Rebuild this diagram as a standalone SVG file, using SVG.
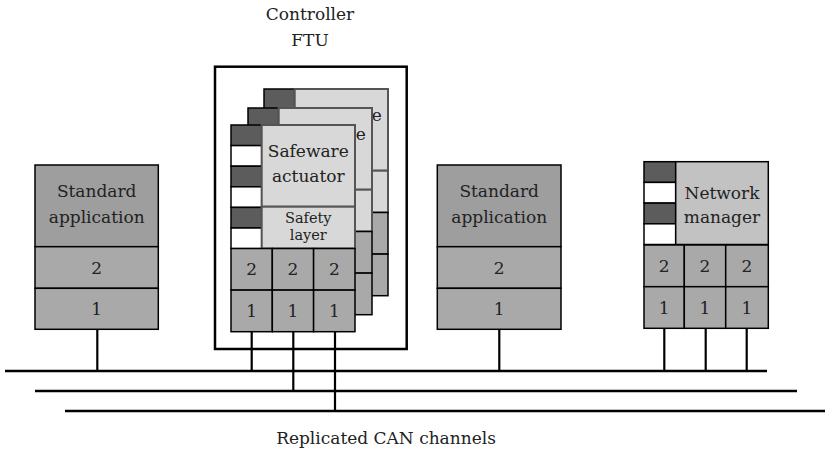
<svg xmlns="http://www.w3.org/2000/svg" width="825" height="459" viewBox="0 0 825 459">
<style>
text{font-family:"DejaVu Serif","Liberation Serif",serif;font-size:17px;fill:#222;text-anchor:middle}
.sm{font-size:14.5px}
.dk{fill:#5c5c5c;stroke:#000;stroke-width:1.5}
.wh{fill:#fff;stroke:#000;stroke-width:1.5}
.lt{fill:#d8d8d8;stroke:#555;stroke-width:2}
.nm{fill:#c2c2c2;stroke:#000;stroke-width:1.5}
.gr{fill:#a9a9a9;stroke:#000;stroke-width:1.5}
.sa{fill:#9e9e9e;stroke:#000;stroke-width:1.5}
.ln{stroke:#000;stroke-width:2.2;fill:none}
.bus{stroke:#000;stroke-width:2.6;fill:none}
.box{fill:#fff;stroke:#000;stroke-width:2.5}
</style>
<defs>
<g id="cardBase">
<rect class="dk" x="231" y="125" width="30.7" height="20.6"/>
<rect class="wh" x="231" y="145.6" width="30.7" height="20.6"/>
<rect class="dk" x="231" y="166.2" width="30.7" height="20.6"/>
<rect class="wh" x="231" y="186.8" width="30.7" height="20.6"/>
<rect class="dk" x="231" y="207.4" width="30.7" height="20.6"/>
<rect class="wh" x="231" y="228" width="30.7" height="20.6"/>
<rect class="lt" x="261.7" y="125" width="93.3" height="81.7"/>
<rect class="lt" x="261.7" y="206.7" width="93.3" height="41.8"/>
<rect class="gr" x="231" y="248.5" width="41.3" height="41.6"/>
<rect class="gr" x="272.3" y="248.5" width="41.3" height="41.6"/>
<rect class="gr" x="313.6" y="248.5" width="41.4" height="41.6"/>
<rect class="gr" x="231" y="290.1" width="41.3" height="41.6"/>
<rect class="gr" x="272.3" y="290.1" width="41.3" height="41.6"/>
<rect class="gr" x="313.6" y="290.1" width="41.4" height="41.6"/>
<text x="308.3" y="157">Safeware</text>
</g>
</defs>

<g id="controller">
<text x="310" y="20">Controller</text>
<text x="310" y="46">FTU</text>
<rect class="box" x="215" y="66.7" width="191.7" height="282.3"/>
</g>

<g id="card3" transform="translate(33,-36)">
<use href="#cardBase"/>
</g>
<g id="card2" transform="translate(17,-17)">
<use href="#cardBase"/>
</g>
<g id="card1">
<use href="#cardBase"/>
<text x="308.3" y="182">actuator</text>
<text class="sm" x="308.3" y="223">Safety</text>
<text class="sm" x="308.3" y="240">layer</text>
<text x="251.7" y="275">2</text>
<text x="293" y="275">2</text>
<text x="334.3" y="275">2</text>
<text x="251.7" y="316.5">1</text>
<text x="293" y="316.5">1</text>
<text x="334.3" y="316.5">1</text>
</g>

<g id="stdapp1">
<rect class="sa" x="35" y="165" width="123.3" height="81.7"/>
<rect class="gr" x="35" y="246.7" width="123.3" height="41.6"/>
<rect class="gr" x="35" y="288.3" width="123.3" height="41"/>
<text x="96.7" y="196.5">Standard</text>
<text x="96.7" y="222.5">application</text>
<text x="96.7" y="273.5">2</text>
<text x="96.7" y="315">1</text>
</g>

<g id="stdapp2">
<rect class="sa" x="437.3" y="165" width="123.7" height="81.7"/>
<rect class="gr" x="437.3" y="246.7" width="123.7" height="41.6"/>
<rect class="gr" x="437.3" y="288.3" width="123.7" height="41"/>
<text x="499.2" y="196.5">Standard</text>
<text x="499.2" y="222.5">application</text>
<text x="499.2" y="273.5">2</text>
<text x="499.2" y="315">1</text>
</g>

<g id="netmgr">
<rect class="dk" x="644" y="161.7" width="31.7" height="20.7"/>
<rect class="wh" x="644" y="182.4" width="31.7" height="20.7"/>
<rect class="dk" x="644" y="203.1" width="31.7" height="20.7"/>
<rect class="wh" x="644" y="223.8" width="31.7" height="20.7"/>
<rect class="nm" x="675.7" y="161.7" width="92.6" height="82.8"/>
<rect class="gr" x="644" y="245" width="40.3" height="41.7"/>
<rect class="gr" x="684.3" y="245" width="41.4" height="41.7"/>
<rect class="gr" x="725.7" y="245" width="42.6" height="41.7"/>
<rect class="gr" x="644" y="286.7" width="40.3" height="41.6"/>
<rect class="gr" x="684.3" y="286.7" width="41.4" height="41.6"/>
<rect class="gr" x="725.7" y="286.7" width="42.6" height="41.6"/>
<text x="722" y="199">Network</text>
<text x="722" y="223">manager</text>
<text x="664.2" y="272">2</text>
<text x="705" y="272">2</text>
<text x="747" y="272">2</text>
<text x="664.2" y="313.5">1</text>
<text x="705" y="313.5">1</text>
<text x="747" y="313.5">1</text>
</g>

<g id="connectors">
<line class="bus" x1="5" y1="371" x2="767" y2="371"/>
<line class="bus" x1="35" y1="391" x2="797" y2="391"/>
<line class="bus" x1="65" y1="411" x2="825" y2="411"/>
<line class="ln" x1="97.3" y1="329.3" x2="97.3" y2="371"/>
<line class="ln" x1="499.3" y1="329.3" x2="499.3" y2="371"/>
<line class="ln" x1="251.7" y1="331.7" x2="251.7" y2="371"/>
<line class="ln" x1="293.3" y1="331.7" x2="293.3" y2="391"/>
<line class="ln" x1="335" y1="331.7" x2="335" y2="411"/>
<line class="ln" x1="664.3" y1="328.3" x2="664.3" y2="371"/>
<line class="ln" x1="705.7" y1="328.3" x2="705.7" y2="371"/>
<line class="ln" x1="746.7" y1="328.3" x2="746.7" y2="371"/>
</g>

<text id="buslabel" x="386" y="444">Replicated CAN channels</text>
</svg>
